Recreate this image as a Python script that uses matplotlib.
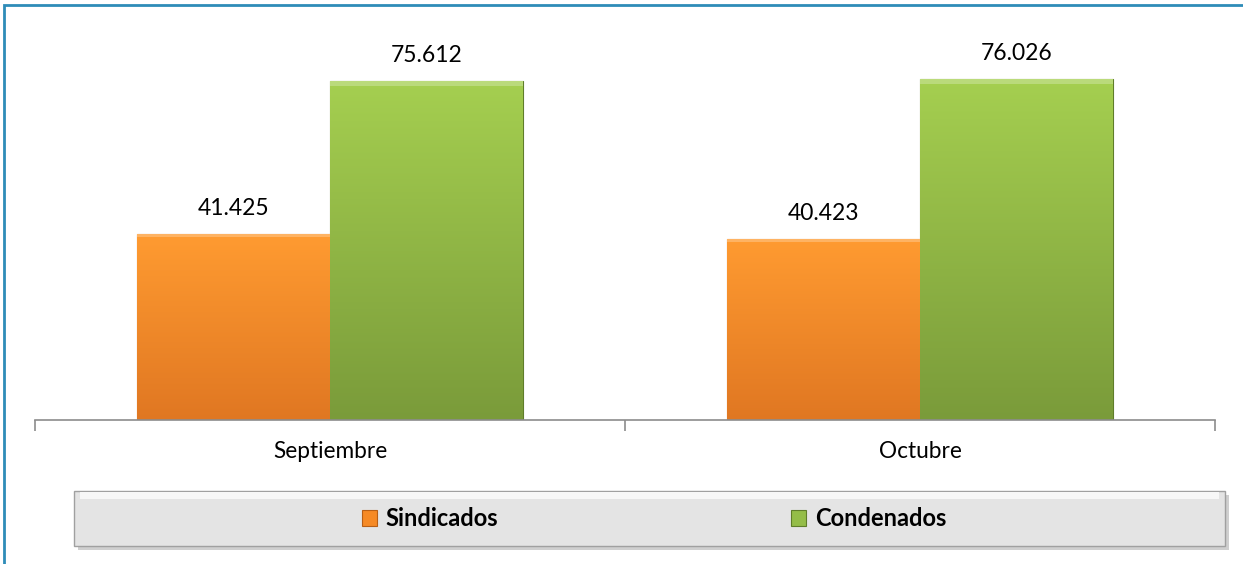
import matplotlib
matplotlib.use('Agg')
import matplotlib.pyplot as plt
import numpy as np
from matplotlib.colors import LinearSegmentedColormap
from matplotlib.patches import Rectangle

plt.rcParams['font.family'] = ['Lato', 'DejaVu Sans']

# datos
meses = ['Septiembre', 'Octubre']
sindicados = [41.425, 40.423]
condenados = [75.612, 76.026]
etiquetas_sind = ['41.425', '40.423']
etiquetas_cond = ['75.612', '76.026']

fig = plt.figure(figsize=(12.43, 5.64), dpi=100)
ax = fig.add_axes([0.0282, 0.2553, 0.9493, 0.6915])

x = np.arange(len(meses))
w = 0.327

cmap_nar = LinearSegmentedColormap.from_list('nar', ['#e07722', '#ff9b31'])
cmap_ver = LinearSegmentedColormap.from_list('ver', ['#7a9b3a', '#a5cf50'])

b1 = ax.bar(x - w / 2, sindicados, w, color='#f68a25', edgecolor='#b85f15', linewidth=0.8, zorder=2)
b2 = ax.bar(x + w / 2, condenados, w, color='#94bd48', edgecolor='#5f7d2a', linewidth=0.8, zorder=2)

# degradado vertical en cada barra
grad = np.linspace(0, 1, 256).reshape(-1, 1)
for bars, cm in ((b1, cmap_nar), (b2, cmap_ver)):
    for r in bars:
        x0, h = r.get_x(), r.get_height()
        im = ax.imshow(grad, extent=[x0, x0 + r.get_width(), 0, h], origin='lower',
                       aspect='auto', cmap=cm, zorder=2.5)
        im.set_clip_path(r)
        # borde superior claro (bisel)
        ax.add_patch(Rectangle((x0, h * 0.985), r.get_width(), h * 0.015, color='white',
                               alpha=0.25, zorder=2.6, lw=0))

for rects, labs in ((b1, etiquetas_sind), (b2, etiquetas_cond)):
    for r, t in zip(rects, labs):
        ax.annotate(t, (r.get_x() + r.get_width() / 2, r.get_height()), xytext=(0, 11),
                    textcoords='offset points', ha='center', va='bottom', fontsize=16.5)

ax.set_xlim(-0.5, 1.5)
ax.set_ylim(0, 87)
for s in ['top', 'right', 'left']:
    ax.spines[s].set_visible(False)
ax.spines['bottom'].set_color('#8c8c8c')
ax.spines['bottom'].set_linewidth(1.2)
ax.set_yticks([])
ax.set_xticks(x)
ax.set_xticklabels(meses, fontsize=16.3)
ax.tick_params(axis='x', which='major', length=0, pad=15)
ax.set_xticks([-0.5, 0.5, 1.5], minor=True)
ax.tick_params(axis='x', which='minor', length=8, color='#8c8c8c', width=1.2)

# caja de la leyenda con sombra
x0, y0, bw, bh = 74 / 1243, 18 / 564, 1151 / 1243, 55 / 564
fig.patches.append(Rectangle((x0 + 4 / 1243, y0 - 4 / 564), bw, bh, transform=fig.transFigure,
                             facecolor='#b0b0b0', edgecolor='none', alpha=0.6))
fig.patches.append(Rectangle((x0, y0), bw, bh, transform=fig.transFigure,
                             facecolor='#e4e4e4', edgecolor='#a0a0a0', linewidth=1))
fig.patches.append(Rectangle((x0 + 6 / 1243, y0 + bh - 8 / 564), bw - 12 / 1243, 7 / 564,
                             transform=fig.transFigure, facecolor='#f7f7f7', edgecolor='none'))

leg = fig.legend([b1, b2], ['Sindicados', 'Condenados'], loc='center',
                 bbox_to_anchor=(654 / 1243, y0 + bh / 2), ncol=2, frameon=False,
                 prop={'weight': 'bold', 'size': 17}, handlelength=0.65, handleheight=0.65,
                 handletextpad=0.35, columnspacing=12.4)

# borde exterior azul
fig.patches.append(Rectangle((4 / 1243, -0.1), 1.2, 1.1 - 5 / 564, transform=fig.transFigure,
                             facecolor='none', edgecolor='#2e8cb8', linewidth=2))

fig.savefig('out.png', dpi=100)
